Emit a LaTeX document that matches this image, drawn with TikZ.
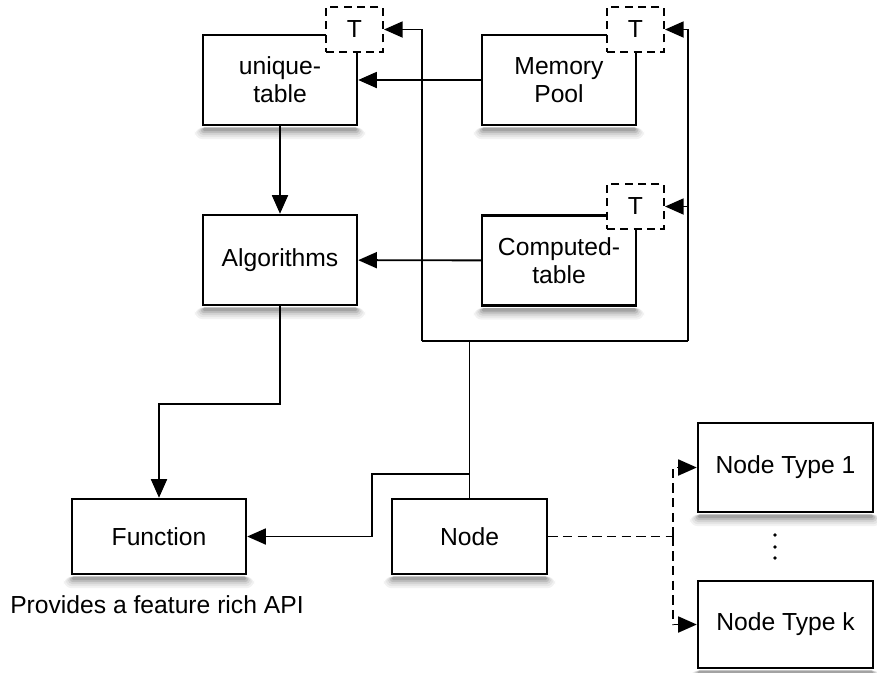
\documentclass[tikz,border=0pt]{standalone}
\usepackage{fontspec}
\setmainfont{Liberation Sans}
\usepackage{tikz}
\usetikzlibrary{arrows.meta}
\usetikzlibrary{positioning,calc}

\begin{document}
\begin{tikzpicture}[x=0.75pt,y=0.75pt,yscale=-1,xscale=1]
  \useasboundingbox (0,0) rectangle (877,672);
  \tikzstyle{arrow} = [line width=1.4pt,-{Triangle[length=14pt,width=12pt]}]
  \tikzstyle{dasharrow} = [arrow,dashed,dash pattern=on 7pt off 4pt]
  \tikzstyle{box} = [draw,line width=1.8pt,fill=white,align=center,font=\fontsize{18.5}{21}\selectfont,
    minimum width=115.5pt,minimum height=67.5pt,inner sep=0pt]
  \tikzstyle{tbox} = [draw,line width=1.5pt,dashed,dash pattern=on 6pt off 4pt,fill=white,
    font=\fontsize{18.5}{21}\selectfont,minimum width=42.75pt,minimum height=33.75pt,inner sep=0pt]
  %Draw the boxes
  \node [box] (unique) at (280,80) {unique-\\table};
  \node [box] (pool) at (559,80) {Memory\\Pool};
  \node [box] (algo) at (280,260) {Algorithms};
  \node [box] (computed) at (559,260.5) {Computed-\\table};
  \node [box,minimum width=130.5pt,minimum height=56.25pt] (function) at (159,536.5) {Function};
  \node [box,minimum width=116.25pt,minimum height=56.25pt] (node) at (469.5,536.5) {Node};
  \node [box,minimum width=131.25pt,minimum height=66.75pt] (type1) at (785.5,467.5) {Node Type 1};
  \node [box,minimum width=131.25pt,minimum height=65.25pt] (typek) at (785.5,624.5) {Node Type k};
  %Soft shadows under the boxes (grey bands, darkest closest)
  \foreach \n in {unique,pool,algo,computed,function,node,type1,typek}
    \foreach \s/\g in {10/5,8/10,6/17,4/26,2/36}
      \fill [black!\g,rounded corners=\s*0.6pt] ($(\n.south west)+(-\s+3,1.5)$) rectangle ($(\n.south east)+(\s-3,\s+3)$);
  %Draw the T tags
  \node [tbox] (tunique) at (354.5,29.5) {T};
  \node [tbox] (tpool) at (635.5,29.5) {T};
  \node [tbox] (tcomputed) at (635.5,206.5) {T};
  % Label under Function
  \node [anchor=west,inner sep=0pt,font=\fontsize{18.5}{21}\selectfont] (api) at (10,605) {Provides a feature rich API};
  %Bend points
  \coordinate (leftup) at (422,341);
  \coordinate (rightup) at (688,341);
  \coordinate (fbend) at (372,474);
  \coordinate (split) at (673,536.5);
  %Draw arrows
  \draw [arrow] (pool) -- (unique);
  \draw [arrow] (computed) -- (algo);
  \draw [arrow] (unique) -- (algo);
  \draw [arrow] (algo.south) -- ++(0,98) -| (function.north);
  \draw [line width=1.4pt] (node.north) -- (node.north |- leftup);
  \draw [line width=1.4pt] (leftup) -- (rightup);
  \draw [arrow] (leftup) |- (tunique.east);
  \draw [arrow] (rightup) |- (tpool.east);
  \draw [arrow] (rightup |- tcomputed.east) -- (tcomputed.east);
  \draw [arrow] (node.north |- fbend) -- (fbend) |- (function.east);
  %Dashed links to the node types
  \draw [line width=1.4pt,dashed,dash pattern=on 7pt off 4pt] (node.east) -- (split);
  \draw [dasharrow] (split) |- (type1.west);
  \draw [dasharrow] (split) |- (typek.west);
  % Draw the dots
  \foreach \y in {535,547,558}
    \fill (775,\y) circle (1.8);
\end{tikzpicture}
\end{document}
